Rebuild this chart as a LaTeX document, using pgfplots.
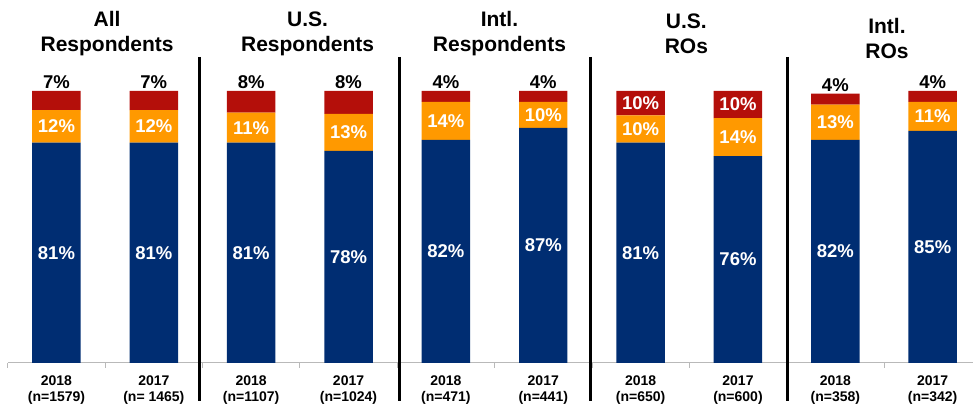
\documentclass[border=0pt]{standalone}
\usepackage{fontspec}
\setmainfont{Liberation Sans}
\usepackage{pgfplots}
\usepackage{pgfplotstable}
\pgfplotsset{compat=1.18}
\definecolor{cblue}{RGB}{0,45,114}
\definecolor{corange}{RGB}{255,153,0}
\definecolor{cred}{RGB}{180,15,10}
\pgfplotstableread{
x b o r bl ol rl inside
0 81 12 7 81 12 7 0
1 81 12 7 81 12 7 0
2 81 11 8 81 11 8 0
3 78 13.6 8.4 78 13 8 0
4 82 14 4 82 14 4 0
5 86.4 9.6 4 87 10 4 0
6 81 10 9 81 10 10 1
7 76 14 10 76 14 10 1
8 82 13 4 82 13 4 0
9 85.3 10.7 4 85 11 4 0
}\data
\pgfplotsset{
  base/.style={width=965.2pt, height=272pt, scale only axis,
    xmin=-0.5, xmax=9.41, ymin=0, ymax=100, clip=false},
  lab/.style={draw=none, mark=none, nodes near coords={\pgfplotspointmeta\%},
    point meta=explicit symbolic,
    every node near coord/.append style={anchor=center, text=white,
      font=\fontsize{18.5}{20}\selectfont\bfseries}},
}
\begin{document}
\begin{tikzpicture}
\begin{axis}[base,
  ybar stacked, bar width=48.5pt,
  axis x line=bottom, axis y line=none,
  x axis line style={-, draw=gray!55, line width=0.8pt},
  xtick={0,...,9}, major tick length=0pt,
  minor xtick={-0.5,0.5,...,8.5}, minor tick length=5pt, tick align=outside,
  minor tick style={draw=gray!55, line width=0.8pt},
  xticklabels={{2018\\(n=1579)},{2017\\(n= 1465)},{2018\\(n=1107)},{2017\\(n=1024)},{2018\\(n=471)},{2017\\(n=441)},{2018\\(n=650)},{2017\\(n=600)},{2018\\(n=358)},{2017\\(n=342)}},
  xticklabel style={align=center, font=\fontsize{14}{16}\selectfont\bfseries, yshift=-9.5pt},
]
\addplot[fill=cblue, draw=none] table[x=x, y=b] {\data};
\addplot[fill=corange, draw=none] table[x=x, y=o] {\data};
\addplot[fill=cred, draw=none] table[x=x, y=r] {\data};
\draw[black, line width=3pt] (axis cs:1.47,112.5) -- (axis cs:1.47,-14);
\draw[black, line width=3pt] (axis cs:3.52,112.5) -- (axis cs:3.52,-14);
\draw[black, line width=3pt] (axis cs:5.49,112.5) -- (axis cs:5.49,-14);
\draw[black, line width=3pt] (axis cs:7.51,112.5) -- (axis cs:7.51,-14);
\tikzset{ttl/.style={align=center, font=\fontsize{21}{25}\selectfont\bfseries}}
\node[ttl] at (axis cs:0.52,121) {All\\Respondents};
\node[ttl] at (axis cs:2.58,121) {U.S.\\Respondents};
\node[ttl] at (axis cs:4.55,121) {Intl.\\Respondents};
\node[ttl] at (axis cs:6.47,121) {U.S.\\ROs};
\node[ttl] at (axis cs:8.53,119.2) {Intl.\\ROs};
\path (axis cs:-0.58,-15.81) rectangle (axis cs:9.41,133.46);
\end{axis}
\begin{axis}[base, hide axis]
\addplot[lab] table[x=x, y expr=\thisrow{b}/2, meta=bl] {\data};
\addplot[lab] table[x=x, y expr=\thisrow{b}+\thisrow{o}/2, meta=ol] {\data};
\addplot[lab, restrict expr to domain={\thisrow{inside}}{0.5:1.5}]
  table[x=x, y expr=\thisrow{b}+\thisrow{o}+\thisrow{r}/2, meta=rl] {\data};
\addplot[lab, restrict expr to domain={\thisrow{inside}}{-0.5:0.5},
  every node near coord/.append style={anchor=south, text=black, inner sep=2pt}]
  table[x=x, y expr=\thisrow{b}+\thisrow{o}+\thisrow{r}, meta=rl] {\data};
\end{axis}
\end{tikzpicture}
\end{document}
